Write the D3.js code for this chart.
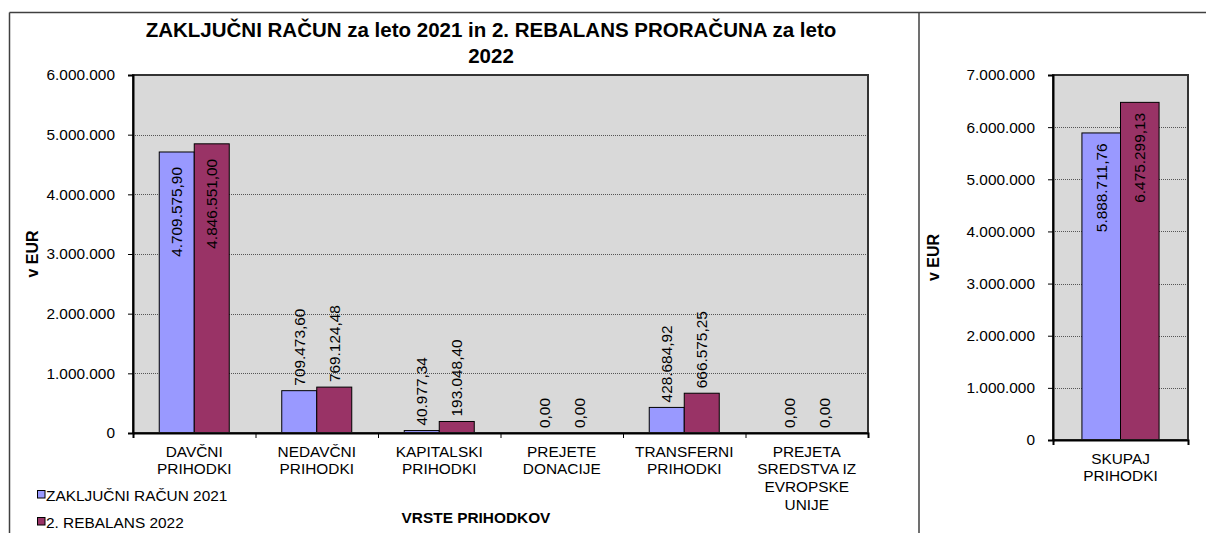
<!DOCTYPE html>
<html>
<head>
<meta charset="utf-8">
<script src="https://cdn.jsdelivr.net/npm/d3@7"></script>
<style>
  html, body { margin: 0; padding: 0; background: #fff; }
  svg { display: block; font-family: "Liberation Sans", Arial, sans-serif; }
</style>
</head>
<body>
<svg id="chart" width="1206" height="533"></svg>
<script>
// ---- data ----
const categories = [
  ["DAVČNI", "PRIHODKI"],
  ["NEDAVČNI", "PRIHODKI"],
  ["KAPITALSKI", "PRIHODKI"],
  ["PREJETE", "DONACIJE"],
  ["TRANSFERNI", "PRIHODKI"],
  ["PREJETA", "SREDSTVA IZ", "EVROPSKE", "UNIJE"]
];
const seriesNames = ["ZAKLJUČNI RAČUN 2021", "2. REBALANS 2022"];
const values2021 = [4709575.90, 709473.60, 40977.34, 0, 428684.92, 0];
const values2022 = [4846551.00, 769124.48, 193048.40, 0, 666575.25, 0];
const totalCategory = ["SKUPAJ", "PRIHODKI"];
const total2021 = [5888711.76];
const total2022 = [6475299.13];
const leftTicks = [0, 1000000, 2000000, 3000000, 4000000, 5000000, 6000000];
const rightTicks = [0, 1000000, 2000000, 3000000, 4000000, 5000000, 6000000, 7000000];
const titleLines = ["ZAKLJUČNI RAČUN za leto 2021 in 2. REBALANS PRORAČUNA za leto", "2022"];
const yTitle = "v EUR";
const xTitle = "VRSTE PRIHODKOV";
const colors = ["#9999FF", "#993366"];

const loc = d3.formatLocale({decimal: ",", thousands: ".", grouping: [3], currency: ["", "€"]});
const fmtVal = loc.format(",.2f");
const fmtTick = loc.format(",.0f");
const FS = 15.4;

const svg = d3.select("#chart");

// frame lines
svg.append("line").attr("x1", 9.5).attr("x2", 1206).attr("y1", 12.5).attr("y2", 12.5)
  .attr("stroke", "#404040").attr("stroke-width", 1.5);
svg.append("line").attr("x1", 9.5).attr("x2", 9.5).attr("y1", 12.5).attr("y2", 533)
  .attr("stroke", "#404040").attr("stroke-width", 1.5);
svg.append("line").attr("x1", 919).attr("x2", 919).attr("y1", 12.5).attr("y2", 533)
  .attr("stroke", "#404040").attr("stroke-width", 1.5);

function drawPanel(opts) {
  const {left, right, top, bottom, cats, s1, s2, ticks, maxV, yTitleX, insideMin, insideOff, catY0} = opts;
  const x0 = d3.scaleBand().domain(d3.range(cats.length)).range([left, right]).padding(0);
  const x1 = d3.scaleBand().domain([0, 1]).range([0, x0.bandwidth()]).paddingInner(0).paddingOuter(0.75);
  const y = d3.scaleLinear().domain([0, maxV]).range([bottom, top]);

  const g = svg.append("g");
  // background
  g.append("rect").attr("x", left).attr("y", top).attr("width", right - left).attr("height", bottom - top)
    .attr("fill", "#D9D9D9");
  // gridlines
  g.append("g").selectAll("line").data(ticks.filter(t => t > 0 && t < maxV)).join("line")
    .attr("x1", left).attr("x2", right).attr("y1", d => Math.round(y(d)) + 0.5).attr("y2", d => Math.round(y(d)) + 0.5)
    .attr("stroke", "#555").attr("stroke-width", 1).attr("stroke-dasharray", "1,1");

  // bars
  const data = [];
  cats.forEach((c, i) => {
    [s1[i], s2[i]].forEach((v, k) => data.push({i, k, v}));
  });
  g.append("g").selectAll("rect").data(data).join("rect")
    .attr("x", d => x0(d.i) + x1(d.k))
    .attr("width", x1.bandwidth())
    .attr("y", d => y(d.v))
    .attr("height", d => y(0) - y(d.v))
    .attr("fill", d => colors[d.k])
    .attr("stroke", "#000").attr("stroke-width", d => d.v > 0 ? 1 : 0);

  // plot border
  g.append("rect").attr("x", left).attr("y", top).attr("width", right - left).attr("height", bottom - top)
    .attr("fill", "none").attr("stroke", "#333").attr("stroke-width", 2);

  // y axis
  const yAxis = d3.axisLeft(y).tickValues(ticks).tickFormat(fmtTick).tickSize(5).tickPadding(13);
  const ya = g.append("g").attr("transform", `translate(${left},0)`).call(yAxis);
  ya.select(".domain").attr("stroke", "#000").attr("stroke-width", 2);
  ya.selectAll(".tick line").attr("stroke", "#000");
  ya.selectAll("text").attr("font-size", FS).attr("fill", "#000")
    .attr("font-family", "'Liberation Sans', Arial, sans-serif");

  // x axis
  const xAxis = d3.axisBottom(d3.scaleLinear().domain([0, cats.length]).range([left, right]))
    .tickValues(d3.range(cats.length + 1)).tickFormat("").tickSize(5);
  const xa = g.append("g").attr("transform", `translate(0,${bottom})`).call(xAxis);
  xa.select(".domain").attr("stroke", "#000").attr("stroke-width", 2);
  xa.selectAll(".tick line").attr("stroke", "#000");

  // category labels
  cats.forEach((lines, i) => {
    const t = g.append("text").attr("text-anchor", "middle").attr("font-size", FS).attr("fill", "#000");
    lines.forEach((ln, j) => {
      t.append("tspan").attr("x", x0(i) + x0.bandwidth() / 2).attr("y", catY0 + j * 17.8).text(ln);
    });
  });

  // data labels
  g.append("g").selectAll("text").data(data).join("text")
    .attr("font-size", FS).attr("fill", "#000")
    .attr("dominant-baseline", "central")
    .attr("text-anchor", d => (y(0) - y(d.v)) > insideMin ? "end" : "start")
    .attr("transform", d => {
      const cx = x0(d.i) + x1(d.k) + x1.bandwidth() / 2;
      const h = y(0) - y(d.v);
      const ty = h > insideMin ? y(d.v) + insideOff : y(d.v) - 5;
      return `translate(${cx},${ty}) rotate(-90)`;
    })
    .text(d => fmtVal(d.v));

  // y title
  g.append("text").attr("transform", `translate(${yTitleX},${(top + bottom) / 2}) rotate(-90)`)
    .attr("text-anchor", "middle").attr("dominant-baseline", "central")
    .attr("font-size", 16).attr("font-weight", "bold").text(yTitle);
}

drawPanel({left: 133, right: 868, top: 75, bottom: 433, cats: categories, s1: values2021, s2: values2022,
  ticks: leftTicks, maxV: 6000000, yTitleX: 32, insideMin: 120, insideOff: 15, catY0: 456.5});
drawPanel({left: 1053, right: 1188, top: 75, bottom: 440, cats: [totalCategory], s1: total2021, s2: total2022,
  ticks: rightTicks, maxV: 7000000, yTitleX: 933, insideMin: 120, insideOff: 10.5, catY0: 463.5});

// title
const tt = svg.append("text").attr("text-anchor", "middle").attr("font-size", 20.5).attr("font-weight", "bold");
titleLines.forEach((ln, j) => tt.append("tspan").attr("x", 491).attr("y", 37 + j * 25.5).text(ln));

// x title
svg.append("text").attr("x", 476).attr("y", 522.5).attr("text-anchor", "middle")
  .attr("font-size", FS).attr("font-weight", "bold").text(xTitle);

// legend
seriesNames.forEach((name, k) => {
  const ly = 495 + k * 27;
  svg.append("rect").attr("x", 37.5).attr("y", ly - 4.5).attr("width", 7.5).attr("height", 7.5)
    .attr("fill", colors[k]).attr("stroke", "#000").attr("stroke-width", 1);
  svg.append("text").attr("x", 46).attr("y", ly).attr("dominant-baseline", "central")
    .attr("font-size", FS).text(name);
});
</script>
</body>
</html>
